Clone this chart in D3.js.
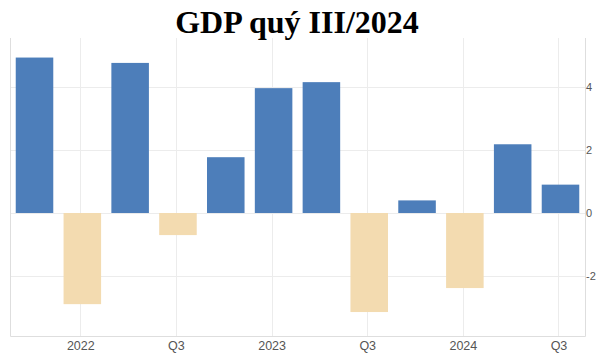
<!DOCTYPE html>
<html>
<head>
<meta charset="utf-8">
<script src="https://cdn.jsdelivr.net/npm/d3@7"></script>
<style>
  html, body { margin: 0; padding: 0; background: #fff; overflow: hidden; }
  svg { display: block; }
</style>
</head>
<body>
<svg id="chart" width="597" height="356"></svg>
<script>
// Quarterly GDP change (%), Q4 2021 – Q3 2024
const quarters = ["Q4 2021", "Q1 2022", "Q2 2022", "Q3 2022", "Q4 2022", "Q1 2023",
                  "Q2 2023", "Q3 2023", "Q4 2023", "Q1 2024", "Q2 2024", "Q3 2024"];
const gdpChange = [4.93, -2.89, 4.76, -0.70, 1.77, 3.96, 4.15, -3.14, 0.40, -2.38, 2.18, 0.90];
const xTickQuarters = ["Q1 2022", "Q3 2022", "Q1 2023", "Q3 2023", "Q1 2024", "Q3 2024"];
const xTickLabels = ["2022", "Q3", "2023", "Q3", "2024", "Q3"];
const yTicks = [-2, 0, 2, 4];
const titleText = "GDP quý III/2024";

const svg = d3.select("#chart");
const plot = { left: 10, right: 585, top: 38, bottom: 336 };

const x = d3.scaleBand()
  .domain(quarters)
  .range([plot.left, plot.right])
  .paddingInner(0.215)
  .paddingOuter(0.12);

const y = d3.scaleLinear()
  .domain([-3.9, 5.55])
  .range([plot.bottom, plot.top]);

// horizontal grid
svg.append("g")
  .selectAll("line")
  .data(yTicks)
  .join("line")
  .attr("x1", plot.left).attr("x2", plot.right)
  .attr("y1", d => Math.round(y(d)) + 0.5).attr("y2", d => Math.round(y(d)) + 0.5)
  .attr("stroke", "#ececec").attr("stroke-width", 1);

// vertical grid at labelled quarters
svg.append("g")
  .selectAll("line")
  .data(xTickQuarters)
  .join("line")
  .attr("x1", d => Math.round(x(d) + x.bandwidth() / 2) - 1.5)
  .attr("x2", d => Math.round(x(d) + x.bandwidth() / 2) - 1.5)
  .attr("y1", plot.top).attr("y2", plot.bottom)
  .attr("stroke", "#ececec").attr("stroke-width", 1);

// frame: left, bottom, right
svg.append("path")
  .attr("d", `M${plot.left + 0.5},${plot.top}V${plot.bottom + 0.5}H${plot.right + 0.5}V${plot.top}`)
  .attr("fill", "none")
  .attr("stroke", "#dedede")
  .attr("stroke-width", 1);

// bars
svg.append("g")
  .selectAll("rect")
  .data(quarters.map((q, i) => ({ q, v: gdpChange[i] })))
  .join("rect")
  .attr("x", d => x(d.q))
  .attr("width", x.bandwidth())
  .attr("y", d => y(Math.max(0, d.v)))
  .attr("height", d => Math.abs(y(d.v) - y(0)))
  .attr("fill", d => d.v >= 0 ? "#4d7eba" : "#f3dbb0");

// right value axis
const yAxis = d3.axisRight(y).tickValues(yTicks).tickSize(0).tickPadding(1)
  .tickFormat(d => String(d));
svg.append("g")
  .attr("transform", `translate(${plot.right},0)`)
  .call(yAxis)
  .call(g => g.select(".domain").remove())
  .call(g => g.selectAll("text")
    .attr("fill", "#555")
    .attr("font-family", "Liberation Sans, Arial, sans-serif")
    .attr("font-size", 11));

// bottom category axis
const labelFor = new Map(xTickQuarters.map((q, i) => [q, xTickLabels[i]]));
const xAxis = d3.axisBottom(x).tickValues(xTickQuarters).tickSize(0).tickPadding(5)
  .tickFormat(d => labelFor.get(d));
svg.append("g")
  .attr("transform", `translate(-1.5,${plot.bottom})`)
  .call(xAxis)
  .call(g => g.select(".domain").remove())
  .call(g => g.selectAll("text")
    .attr("fill", "#555")
    .attr("font-family", "Liberation Sans, Arial, sans-serif")
    .attr("font-size", 12.5));

// title
svg.append("text")
  .attr("x", 297)
  .attr("y", 33)
  .attr("text-anchor", "middle")
  .attr("font-family", "Liberation Serif, 'Times New Roman', serif")
  .attr("font-weight", "bold")
  .attr("font-size", 32)
  .attr("fill", "#000")
  .text(titleText);
</script>
</body>
</html>
